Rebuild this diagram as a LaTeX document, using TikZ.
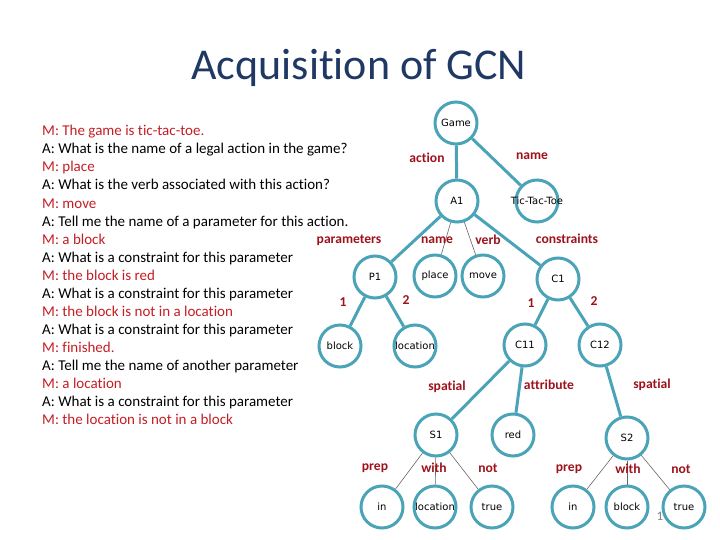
\documentclass[tikz,border=0pt]{standalone}
\usepackage{fontspec}
\setmainfont[Ligatures=NoCommon]{Carlito}
\newfontfamily\nodefont{DejaVu Sans}
\definecolor{gcnteal}{RGB}{75,163,184}
\definecolor{gcnblue}{RGB}{31,56,100}
\definecolor{saidred}{RGB}{196,30,36}
\definecolor{rolered}{RGB}{158,18,28}
\newcommand{\nw}[1]{\makebox[0pt]{#1}}
\tikzset{
    vertex/.style={circle, draw=gcnteal, line width=3pt, fill=white, minimum size=42pt, inner sep=0pt, font=\nodefont\fontsize{10}{12}\selectfont},
    branch/.style={draw=gcnteal, line width=3pt},
    twig/.style={draw=black!60, line width=0.6pt},
    role/.style={font=\bfseries\fontsize{13.6}{15}\selectfont, text=rolered, inner sep=0pt},
    said/.style={anchor=base west, inner sep=0pt, font=\fontsize{15}{16}\selectfont},
}

\begin{document}
\begin{tikzpicture}[x=1pt, y=-1pt]
        \useasboundingbox (0,0) rectangle (720,540);
        \node[anchor=base, text=gcnblue, font=\fontsize{44}{50}\selectfont, inner sep=0pt] (title) at (359,80) {Acquisition of GCN};

        \node[said, text=saidred] (d1) at (42,136) {M: The game is tic-tac-toe.};
        \node[said] (d2) at (42,154) {A: What is the name of a legal action in the game?};
        \node[said, text=saidred] (d3) at (42,172) {M: place};
        \node[said] (d4) at (42,190) {A: What is the verb associated with this action?};
        \node[said, text=saidred] (d5) at (42,208) {M: move};
        \node[said] (d6) at (42,226) {A: Tell me the name of a parameter for this action.};
        \node[said, text=saidred] (d7) at (42,244) {M: a block};
        \node[said] (d8) at (42,262) {A: What is a constraint for this parameter};
        \node[said, text=saidred] (d9) at (42,280) {M: the block is red};
        \node[said] (d10) at (42,298) {A: What is a constraint for this parameter};
        \node[said, text=saidred] (d11) at (42,316) {M: the block is not in a location};
        \node[said] (d12) at (42,334) {A: What is a constraint for this parameter};
        \node[said, text=saidred] (d13) at (42,352) {M: finished.};
        \node[said] (d14) at (42,370) {A: Tell me the name of another parameter};
        \node[said, text=saidred] (d15) at (42,388) {M: a location};
        \node[said] (d16) at (42,406) {A: What is a constraint for this parameter};
        \node[said, text=saidred] (d17) at (42,424) {M: the location is not in a block};

        \node[text=black!50, font=\fontsize{13}{15}\selectfont, inner sep=0pt] (pagenum) at (660,516) {1};

        \node[vertex] (game) at (456,123) {Game};
        \node[vertex] (a1) at (457,201) {A1};
        \node[vertex] (ttt) at (537,201) {\nw{Tic-Tac-Toe}};
        \node[vertex] (p1) at (375,277) {P1};
        \node[vertex] (place) at (435,276) {place};
        \node[vertex] (move) at (483,276) {move};
        \node[vertex] (c1) at (558,279) {C1};
        \node[vertex] (block) at (340,346) {block};
        \node[vertex] (loc) at (415,346) {\nw{location}};
        \node[vertex] (c11) at (525,345) {C11};
        \node[vertex] (c12) at (600,345) {C12};
        \node[vertex] (s1) at (436,435) {S1};
        \node[vertex] (red) at (513,435) {red};
        \node[vertex] (s2) at (627,438) {S2};
        \node[vertex] (in1) at (382,507) {in};
        \node[vertex] (loc1) at (435,507) {\nw{location}};
        \node[vertex] (true1) at (492,507) {true};
        \node[vertex] (in2) at (573,507) {in};
        \node[vertex] (block2) at (627,507) {block};
        \node[vertex] (true2) at (684,507) {true};

        \draw[branch] (game) -- (a1);
        \draw[branch] (game) -- (ttt);
        \draw[branch] (a1) -- (p1);
        \draw[branch] (a1) -- (c1);
        \draw[twig] (a1) -- (place);
        \draw[twig] (a1) -- (move);
        \draw[branch] (p1) -- (block);
        \draw[branch] (p1) -- (loc);
        \draw[branch] (c1) -- (c11);
        \draw[branch] (c1) -- (c12);
        \draw[branch] (c11) -- (s1);
        \draw[branch] (c11) -- (red);
        \draw[branch] (c12) -- (s2);
        \draw[twig] (s1) -- (in1);
        \draw[twig] (s1) -- (loc1);
        \draw[twig] (s1) -- (true1);
        \draw[twig] (s2) -- (in2);
        \draw[twig] (s2) -- (block2);
        \draw[twig] (s2) -- (true2);

        \node[role] (l-action) at (427,158) {action};
        \node[role] (l-name) at (532,156) {name};
        \node[role] (l-params) at (349,240) {parameters};
        \node[role] (l-aname) at (437,240) {name};
        \node[role] (l-verb) at (488,240) {verb};
        \node[role] (l-cons) at (567,239) {constraints};
        \node[role] (l-p1) at (343,302) {1};
        \node[role] (l-p2) at (406,300) {2};
        \node[role] (l-c1) at (531,303) {1};
        \node[role] (l-c2) at (594,301) {2};
        \node[role] (l-sp1) at (447,387) {spatial};
        \node[role] (l-attr) at (549,385) {attribute};
        \node[role] (l-sp2) at (652,385) {spatial};
        \node[role] (l-prep1) at (375,468) {prep};
        \node[role] (l-with1) at (434,468) {with};
        \node[role] (l-not1) at (488,468) {not};
        \node[role] (l-prep2) at (569,469) {prep};
        \node[role] (l-with2) at (628,469) {with};
        \node[role] (l-not2) at (681,469) {not};
\end{tikzpicture}
\end{document}
